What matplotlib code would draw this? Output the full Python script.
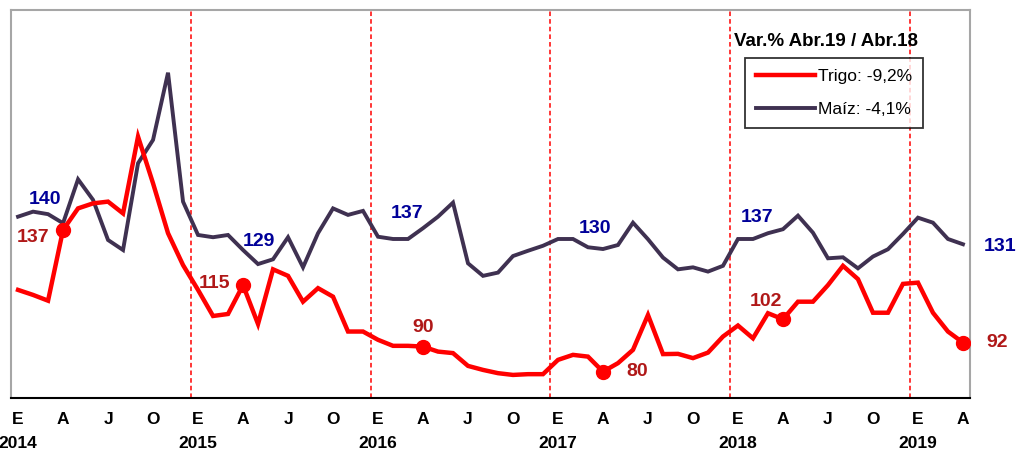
import matplotlib.pyplot as plt
import numpy as np

# ==========================================
# 1. DATA (monthly index, Jan 2014 - Apr 2019)
# ==========================================
trigo = [113.1, 111.1, 108.8, 137.0, 145.6, 147.6, 148.3, 143.6, 174.2, 155.6, 135.7, 123.0,
         113.1, 102.7, 103.5, 115.0, 99.5, 121.3, 118.7, 108.4, 113.8, 110.4, 96.5, 96.5,
         93.2, 90.8, 90.8, 90.5, 88.5, 87.9, 82.8, 81.2, 79.9, 79.2, 79.5, 79.5,
         85.2, 87.2, 86.5, 80.5, 83.9, 89.2, 103.1, 87.5, 87.6, 85.9, 88.1, 94.5,
         98.9, 93.8, 103.8, 101.4, 108.4, 108.4, 115.0, 122.7, 117.4, 104.0, 104.0, 115.5,
         116.0, 104.0, 96.5, 92.1]
maiz = [142.3, 144.3, 143.3, 139.7, 157.2, 149.0, 133.0, 129.0, 163.6, 172.9, 199.7, 148.3,
        135.0, 134.1, 135.0, 129.0, 123.4, 125.3, 134.1, 122.1, 135.7, 145.6, 143.0, 144.6,
        134.3, 133.4, 133.4, 137.7, 142.3, 147.9, 123.7, 118.7, 120.0, 126.6, 128.7, 130.7,
        133.4, 133.4, 130.1, 129.4, 131.0, 139.9, 133.3, 126.0, 121.3, 122.1, 120.4, 122.7,
        133.4, 133.4, 135.7, 137.3, 142.7, 135.9, 125.7, 126.1, 121.7, 126.4, 129.3, 135.4,
        141.9, 139.9, 133.4, 131.3]

month_letters = ['E', 'A', 'J', 'O']
years = ['2014', '2015', '2016', '2017', '2018', '2019']

# April of each year gets a label
april_idx = [3, 15, 27, 39, 51, 63]
trigo_labels = ['137', '115', '90', '80', '102', '92']
maiz_labels = ['140', '129', '137', '130', '137', '131']
# label offsets in pixels (dx, dy), dy positive = up
trigo_off = [(-30, -8), (-29, 2), (0, 19), (34, 0), (-17, 18), (34, 0)]
maiz_off = [(-18, 24), (16, 9), (-16, 15), (-8, 21), (-26, 12), (37, -2)]

RED = '#FF0000'
PURPLE = '#3F3151'
DARKRED = '#B01818'
NAVY = '#000099'

# ==========================================
# 2. PLOT
# ==========================================
plt.rcParams['font.family'] = ['Liberation Sans', 'DejaVu Sans']

fig = plt.figure(figsize=(10.17, 4.5), dpi=100)
ax = fig.add_axes([11 / 1017, 1 - 398 / 450, 959 / 1017, 388 / 450])

x = np.arange(len(trigo))
ax.plot(x, trigo, color=RED, lw=3.2, solid_joinstyle='miter', label='Trigo: -9,2%', zorder=3)
ax.plot(x, maiz, color=PURPLE, lw=2.8, solid_joinstyle='miter', label='Maíz: -4,1%', zorder=2)

# red dots on April values of wheat
ax.plot(x[april_idx], np.array(trigo)[april_idx], 'o', color=RED, ms=10, zorder=4)

# year separators
for yr in range(1, len(years)):
    ax.axvline(12 * yr - 0.5, color=RED, lw=1.1, ls=(0, (3, 2)), zorder=1)

for i, lab, (dx, dy) in zip(april_idx, trigo_labels, trigo_off):
    ax.annotate(lab, (i, trigo[i]), xytext=(dx * 0.72, dy * 0.72), textcoords='offset points',
                ha='center', va='center', fontsize=14, fontweight='bold', color=DARKRED,
                annotation_clip=False)
for i, lab, (dx, dy) in zip(april_idx, maiz_labels, maiz_off):
    ax.annotate(lab, (i, maiz[i]), xytext=(dx * 0.72, dy * 0.72), textcoords='offset points',
                ha='center', va='center', fontsize=14, fontweight='bold', color=NAVY,
                annotation_clip=False)

ax.set_xlim(-0.47, 63.47)
ax.set_ylim(70, 224.7)

ticks = np.arange(0, len(trigo), 3)
ax.set_xticks(ticks)
ax.set_xticklabels([month_letters[(t // 3) % 4] for t in ticks], fontsize=12.5, fontweight='bold')
ax.tick_params(axis='x', length=0, pad=10)
ax.set_yticks([])

for k, yr in enumerate(years):
    ax.text(12 * k, -0.118, yr, transform=ax.get_xaxis_transform(), ha='center', va='center',
            fontsize=12.5, fontweight='bold')

for side in ['left', 'top', 'right']:
    ax.spines[side].set_color('#A6A6A6')
    ax.spines[side].set_linewidth(1.5)
ax.spines['bottom'].set_color('black')
ax.spines['bottom'].set_linewidth(1.5)

# legend with title above the box
fig.text(826 / 1017, 1 - 41 / 450, 'Var.% Abr.19 / Abr.18', fontsize=13.5, fontweight='bold',
         ha='center', va='center')
leg = ax.legend(loc='upper left', bbox_to_anchor=((745 - 11) / 959, (398 - 58) / 388),
                frameon=True, fancybox=False, edgecolor='black', fontsize=12.5,
                handlelength=3.4, handletextpad=0.15, borderpad=0.65, labelspacing=1.0,
                borderaxespad=0)
leg.get_frame().set_linewidth(1.3)

plt.savefig('out.png', dpi=100)
